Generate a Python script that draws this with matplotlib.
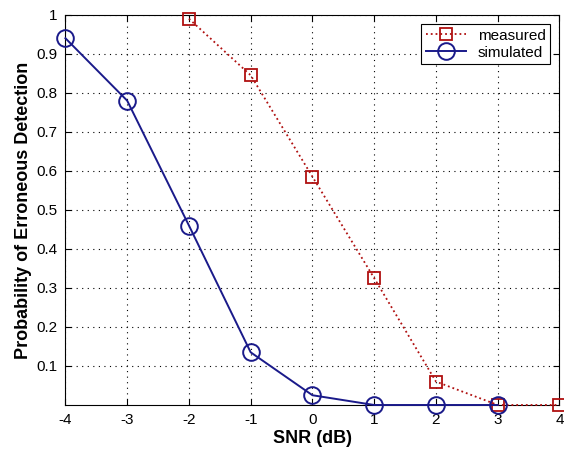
import matplotlib
matplotlib.use("Agg")
import matplotlib.pyplot as plt

snr_measured = [-2, -1, 0, 1, 2, 3, 4]
p_measured = [0.99, 0.845, 0.585, 0.325, 0.06, 0.0, 0.0]
snr_simulated = [-4, -3, -2, -1, 0, 1, 2, 3]
p_simulated = [0.94, 0.78, 0.46, 0.135, 0.025, 0.0, 0.0, 0.0]

xticks = [-4, -3, -2, -1, 0, 1, 2, 3, 4]
yticks = [0.1, 0.2, 0.3, 0.4, 0.5, 0.6, 0.7, 0.8, 0.9, 1.0]
ytick_labels = ["0.1", "0.2", "0.3", "0.4", "0.5", "0.6", "0.7", "0.8", "0.9", "1"]

plt.rcParams['font.family'] = ['Liberation Sans', 'DejaVu Sans']
plt.rcParams['axes.unicode_minus'] = False

fig = plt.figure(figsize=(5.64, 4.49), dpi=100)
ax = fig.add_axes([0.116, 0.098, 0.876, 0.869])

ax.plot(snr_measured, p_measured, color="#b01010", linestyle=":", linewidth=1.3,
        marker="s", markersize=9, markerfacecolor="none", markeredgewidth=1.3,
        label="measured", clip_on=False, zorder=3)
ax.plot(snr_simulated, p_simulated, color="#1a1a8a", linestyle="-", linewidth=1.4,
        marker="o", markersize=12, markerfacecolor="none", markeredgewidth=1.4,
        label="simulated", clip_on=False, zorder=3)

ax.set_xlim(-4, 4)
ax.set_ylim(0, 1)
ax.set_xticks(xticks)
ax.set_yticks(yticks)
ax.set_yticklabels(ytick_labels)
ax.tick_params(direction="in", top=True, right=True, labelsize=11, length=4, pad=6)
ax.grid(True, linestyle=(0, (1, 4)), color="black", linewidth=0.8)

ax.set_xlabel("SNR (dB)", fontsize=13, fontweight="bold", labelpad=2)
ax.set_ylabel("Probability of Erroneous Detection", fontsize=13, fontweight="bold", labelpad=3)

leg = ax.legend(loc="upper right", fontsize=11, fancybox=False, framealpha=1,
                edgecolor="black", handlelength=2.6, borderpad=0.3, labelspacing=0.2,
                borderaxespad=0.6)
leg.get_frame().set_linewidth(0.8)

fig.savefig("out.png", dpi=100)
